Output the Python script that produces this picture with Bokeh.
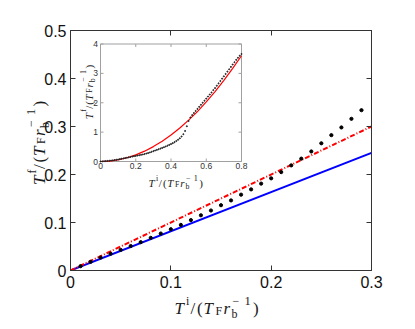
from math import pi
from bokeh.plotting import figure
from bokeh.models import Range1d, LinearAxis, FixedTicker
from bokeh.core.properties import value
from bokeh.layouts import column
from bokeh.embed import file_html
from bokeh.resources import INLINE

# ---------------- data ----------------
main_x_ticks = [0, 0.1, 0.2, 0.3]
main_x_labels = ["0", "0.1", "0.2", "0.3"]
main_y_ticks = [0, 0.1, 0.2, 0.3, 0.4, 0.5]
main_y_labels = ["0", "0.1", "0.2", "0.3", "0.4", "0.5"]

inset_x_ticks = [0, 0.2, 0.4, 0.6, 0.8]
inset_x_labels = ["0", "0.2", "0.4", "0.6", "0.8"]
inset_y_ticks = [0, 1, 2, 3, 4]
inset_y_labels = ["0", "1", "2", "3", "4"]

line_x = [0.0, 0.3]
blue_y = [0.0, 0.245]
red_y = [0.0, 0.3]

dots_x = [0.01, 0.02, 0.03, 0.04, 0.05, 0.06, 0.07, 0.08, 0.09, 0.10,
          0.11, 0.12, 0.13, 0.14, 0.15, 0.16, 0.17, 0.18, 0.19, 0.20,
          0.21, 0.22, 0.23, 0.24, 0.25, 0.26, 0.27, 0.28, 0.29]
dots_y = [0.009, 0.018, 0.027, 0.035, 0.043, 0.051, 0.059, 0.068, 0.077, 0.086,
          0.095, 0.105, 0.115, 0.125, 0.136, 0.146, 0.158, 0.169, 0.181, 0.192,
          0.205, 0.219, 0.233, 0.248, 0.265, 0.282, 0.298, 0.316, 0.334]

inset_curve_x = [0.0, 0.05, 0.10, 0.15, 0.20, 0.25, 0.30, 0.35, 0.40,
                 0.45, 0.50, 0.55, 0.60, 0.65, 0.70, 0.75, 0.80]
inset_curve_y = [0.0, 0.014, 0.056, 0.127, 0.225, 0.352, 0.507, 0.69, 0.90,
                 1.14, 1.41, 1.70, 2.03, 2.38, 2.76, 3.17, 3.60]

inset_dots_x = [0.00, 0.01, 0.02, 0.03, 0.04, 0.05, 0.06, 0.07, 0.08, 0.09,
                0.10, 0.11, 0.12, 0.13, 0.14, 0.15, 0.16, 0.17, 0.18, 0.19,
                0.20, 0.21, 0.22, 0.23, 0.24, 0.25, 0.26, 0.27, 0.28, 0.29,
                0.30, 0.31, 0.32, 0.33, 0.34, 0.35, 0.36, 0.37, 0.38, 0.39,
                0.40, 0.41, 0.42, 0.43, 0.44, 0.45, 0.46, 0.47, 0.48, 0.49,
                0.50, 0.51, 0.52, 0.53, 0.54, 0.55, 0.56, 0.57, 0.58, 0.59,
                0.60, 0.61, 0.62, 0.63, 0.64, 0.65, 0.66, 0.67, 0.68, 0.69,
                0.70, 0.71, 0.72, 0.73, 0.74, 0.75, 0.76, 0.77, 0.78, 0.79,
                0.80]
inset_dots_y = [0.000, 0.004, 0.009, 0.014, 0.019, 0.025, 0.032, 0.040, 0.049, 0.059,
                0.070, 0.081, 0.093, 0.105, 0.117, 0.130, 0.142, 0.155, 0.167, 0.179,
                0.191, 0.203, 0.215, 0.227, 0.240, 0.254, 0.270, 0.288, 0.308, 0.330,
                0.352, 0.374, 0.396, 0.418, 0.440, 0.463, 0.487, 0.512, 0.538, 0.565,
                0.594, 0.625, 0.659, 0.697, 0.740, 0.790, 0.850, 0.930, 1.040, 1.200,
                1.380, 1.500, 1.580, 1.650, 1.720, 1.790, 1.860, 1.930, 2.000, 2.070,
                2.140, 2.210, 2.280, 2.350, 2.430, 2.500, 2.580, 2.660, 2.740, 2.820,
                2.900, 2.980, 3.060, 3.140, 3.220, 3.300, 3.380, 3.460, 3.530, 3.600,
                3.660]


def label_pieces(sup):
    # (text, dx, dy, size, italic) for  T^sup/(T_F r_b^{-1})
    return [("T", 0, 0, 17, True), (sup, 11.5, 7.5, 12, False),
            ("/", 16, 0, 17, False), ("(", 22.5, 0, 17, False),
            ("T", 29, 0, 17, True), ("F", 41, -2, 12, False),
            ("r", 49, 0, 17, True), ("b", 57, -5.5, 12, False),
            ("\u2212", 58, 8, 12, False), ("1", 70, 8, 12.5, False),
            (")", 78.5, 0, 17, False)]


SERIF = "Liberation Serif"
SANS = "Liberation Sans"
W, H = 415, 329

# layout geometry (canvas pixels)
FX0, FX1, FY0, FY1 = 70, 371, 30, 270          # main frame
IX0, IX1, IY0, IY1 = 100, 241, 43.5, 161       # inset frame
XMAX, YMAX = main_x_ticks[-1], main_y_ticks[-1]
IXMAX, IYMAX = inset_x_ticks[-1], inset_y_ticks[-1]


def mx(px):
    return (px - FX0) / (FX1 - FX0) * XMAX


def my(py):
    return (FY1 - py) / (FY1 - FY0) * YMAX


def ix(px):
    return (px - IX0) / (IX1 - IX0) * IXMAX


def iy(py):
    return (IY1 - py) / (IY1 - IY0) * IYMAX


def style_axis(ax, ticks, labels, color, show):
    ax.ticker = FixedTicker(ticks=ticks)
    ax.major_label_overrides = {t: l for t, l in zip(ticks, labels)}
    ax.major_tick_in = 5
    ax.major_tick_out = 0
    ax.minor_tick_in = 0
    ax.minor_tick_out = 0
    ax.axis_line_color = color
    ax.major_tick_line_color = color
    ax.major_label_text_font = SANS
    ax.major_label_text_font_size = "16px"
    ax.major_label_text_color = "#111111" if show else None


# ---------------- main figure ----------------
p = figure(width=W, height=H, output_backend="svg", toolbar_location=None,
           x_range=Range1d(0, XMAX), y_range=Range1d(0, YMAX),
           min_border_left=FX0, min_border_right=W - FX1, min_border_top=FY0,
           min_border_bottom=H - FY1)
p.frame_align = False
p.grid.visible = False
p.outline_line_color = "#333333"
p.background_fill_color = "white"
p.border_fill_color = "white"

style_axis(p.xaxis[0], main_x_ticks, main_x_labels, "#333333", True)
p.xaxis[0].major_label_standoff = 5
style_axis(p.yaxis[0], main_y_ticks, main_y_labels, "#333333", True)
p.yaxis[0].major_label_standoff = 4
ax_r = LinearAxis()
style_axis(ax_r, main_y_ticks, main_y_labels, "#333333", False)
p.add_layout(ax_r, "right")
ax_t = LinearAxis()
style_axis(ax_t, main_x_ticks, main_x_labels, "#333333", False)
p.add_layout(ax_t, "above")

p.line(line_x, blue_y, line_color="#0000ff", line_width=2)
p.line(line_x, red_y, line_color="#ff0000", line_width=2, line_dash="5 2 1 2")
p.scatter(dots_x, dots_y, size=3.2, color="black")

# ---------------- overlay (full canvas frame): inset + axis titles ----------------
q = figure(width=W, height=H, output_backend="svg", toolbar_location=None,
           x_range=Range1d(mx(0), mx(W)), y_range=Range1d(my(H), my(0)),
           x_axis_type=None, y_axis_type=None, min_border=0,
           background_fill_color=None, border_fill_color=None,
           outline_line_color=None)
q.frame_align = False
q.margin = (-H, 0, 0, 0)
q.extra_x_ranges = {"ix": Range1d(ix(0), ix(W))}
q.extra_y_ranges = {"iy": Range1d(iy(H), iy(0))}
IR = dict(x_range_name="ix", y_range_name="iy")

GRAY = "#a0a0a0"
q.quad(left=[0], right=[IXMAX], bottom=[0], top=[IYMAX], fill_color=None,
       line_color=GRAY, line_width=1, **IR)
tlx = 3 / (IX1 - IX0) * IXMAX
tly = 3 / (IY1 - IY0) * IYMAX
q.segment(x0=inset_x_ticks, y0=[0] * len(inset_x_ticks), x1=inset_x_ticks,
          y1=[tly] * len(inset_x_ticks), line_color=GRAY, **IR)
q.segment(x0=inset_x_ticks, y0=[IYMAX] * len(inset_x_ticks), x1=inset_x_ticks,
          y1=[IYMAX - tly] * len(inset_x_ticks), line_color=GRAY, **IR)
q.segment(x0=[0] * len(inset_y_ticks), y0=inset_y_ticks, x1=[tlx] * len(inset_y_ticks),
          y1=inset_y_ticks, line_color=GRAY, **IR)
q.segment(x0=[IXMAX] * len(inset_y_ticks), y0=inset_y_ticks,
          x1=[IXMAX - tlx] * len(inset_y_ticks), y1=inset_y_ticks, line_color=GRAY, **IR)

q.text(x=inset_x_ticks, y=[iy(IY1 + 1.5)] * len(inset_x_ticks), text=inset_x_labels,
       text_font=value(SANS), text_font_size="8.5px", text_color="#333333",
       text_align="center", text_baseline="top", **IR)
q.text(x=[ix(IX0 - 2.5)] * len(inset_y_ticks), y=inset_y_ticks, text=inset_y_labels,
       text_font=value(SANS), text_font_size="8.5px", text_color="#333333",
       text_align="right", text_baseline="middle", **IR)

q.line(inset_curve_x, inset_curve_y, line_color="#ff0000", line_width=1.2, **IR)
q.scatter(inset_dots_x, inset_dots_y, size=1.1, color="#222222", **IR)


def rich_label(fig, pieces, start, base, vertical, scale, color="#1a1a1a"):
    for text, dx, dy, size, italic in pieces:
        if vertical:
            px, py, ang = base - dy * scale, start - dx * scale, pi / 2
        else:
            px, py, ang = start + dx * scale, base - dy * scale, 0
        fig.text(x=[mx(px)], y=[my(py)], text=[text], angle=ang,
                 text_font=value(SERIF), text_font_size=f"{size * scale:.1f}px",
                 text_font_style="italic" if italic else "normal",
                 text_color=color, text_align="left", text_baseline="alphabetic")


rich_label(q, label_pieces("i"), 174, 308, False, 1.0)
rich_label(q, label_pieces("f"), 184.5, 38.5, True, 1.0)
rich_label(q, label_pieces("i"), 148, 182.5, False, 0.647)
rich_label(q, label_pieces("f"), 118.7, 88, True, 0.647)

layout = column(p, q, spacing=0)
open("out.html", "w").write(file_html(layout, INLINE))
